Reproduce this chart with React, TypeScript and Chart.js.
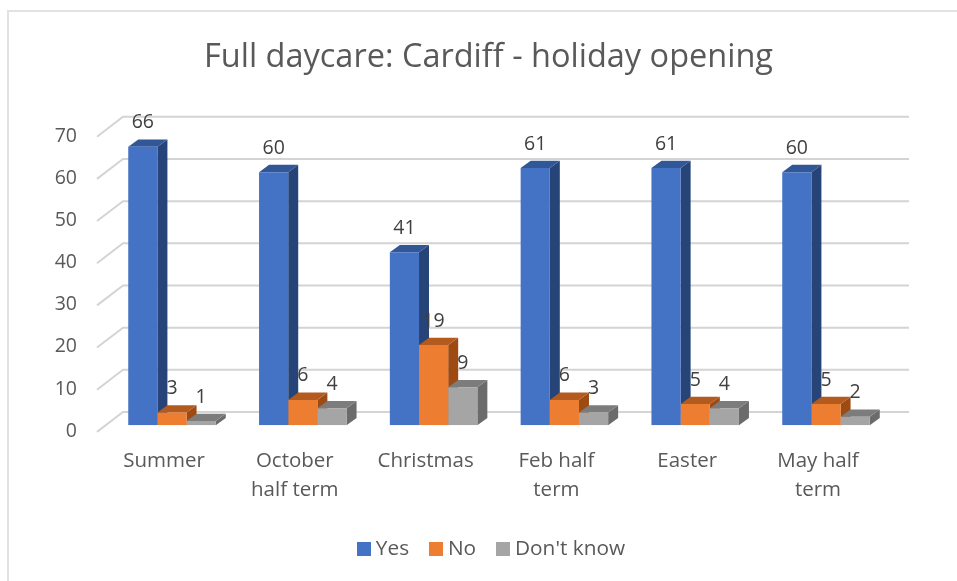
import React, { useEffect, useRef } from "react";
import { Chart, registerables } from "chart.js";

Chart.register(...registerables);

const categories = ["Summer", ["October", "half term"], "Christmas", ["Feb half", "term"], "Easter", ["May half", "term"]];
const yesValues = [66, 60, 41, 61, 61, 60];
const noValues = [3, 6, 19, 6, 5, 5];
const dontKnowValues = [1, 4, 9, 3, 4, 2];
const seriesNames = ["Yes", "No", "Don't know"];
const frontColors = ["#4472c4", "#ed7d31", "#a5a5a5"];
const topColors = ["#325797", "#b35a1f", "#7c7c7c"];
const sideColors = ["#264478", "#9e4a13", "#6b6b6b"];
const FONT = "'Open Sans'";

function swatch(color: string) {
  const c = document.createElement("canvas");
  c.width = 14;
  c.height = 14;
  const g = c.getContext("2d")!;
  g.fillStyle = color;
  g.fillRect(0, 0, 14, 14);
  return c;
}

const bars3d = {
  id: "bars3d",
  afterLayout(chart: any) {
    chart.legend.left += 5;
    chart.legend.right += 5;
  },
  beforeDatasetsDraw(chart: any) {
    const { ctx, chartArea, scales } = chart;
    const yScale = scales.y;
    ctx.save();
    ctx.strokeStyle = "#d4d4d4";
    ctx.lineWidth = 2;
    for (const v of yScale.ticks.map((t: any) => t.value)) {
      const y = yScale.getPixelForValue(v);
      ctx.beginPath();
      ctx.moveTo(chartArea.left - 9.6, y + 6.7);
      ctx.lineTo(chartArea.left + 16.4, y - 13.2);
      ctx.lineTo(chartArea.right + 17.6, y - 13.2);
      ctx.stroke();
    }
    const dx = 10;
    const dy = 7.3;
    for (let d = 0; d < 3; d++) {
      const meta = chart.getDatasetMeta(d);
      for (const bar of meta.data) {
        const p = bar.getProps(["x", "y", "base", "width"], true);
        const l = p.x - p.width / 2;
        const r = p.x + p.width / 2;
        ctx.fillStyle = sideColors[d];
        ctx.beginPath();
        ctx.moveTo(r, p.y);
        ctx.lineTo(r + dx, p.y - dy);
        ctx.lineTo(r + dx, p.base - dy);
        ctx.lineTo(r, p.base);
        ctx.closePath();
        ctx.fill();
        ctx.fillStyle = topColors[d];
        ctx.beginPath();
        ctx.moveTo(l, p.y);
        ctx.lineTo(l + dx, p.y - dy);
        ctx.lineTo(r + dx, p.y - dy);
        ctx.lineTo(r, p.y);
        ctx.closePath();
        ctx.fill();
      }
    }
    ctx.restore();
  },
  afterDatasetsDraw(chart: any) {
    const { ctx } = chart;
    ctx.save();
    ctx.fillStyle = "#404040";
    ctx.font = `19.5px ${FONT}`;
    ctx.textAlign = "center";
    ctx.textBaseline = "middle";
    chart.data.datasets.forEach((ds: any, d: number) => {
      chart.getDatasetMeta(d).data.forEach((bar: any, i: number) => {
        ctx.fillText(String(ds.data[i]), bar.x, bar.y - 24);
      });
    });
    ctx.restore();
  },
};

export default function App() {
  const ref = useRef<HTMLCanvasElement>(null);
  useEffect(() => {
    const swatches = frontColors.map(swatch);
    const chart = new Chart(ref.current!, {
      type: "bar",
      data: {
        labels: categories as any,
        datasets: [yesValues, noValues, dontKnowValues].map((data, i) => ({
          label: seriesNames[i],
          data,
          backgroundColor: frontColors[i],
          categoryPercentage: 0.669,
          barPercentage: 1,
          yAxisID: "y",
        })),
      },
      plugins: [bars3d],
      options: {
        responsive: false,
        animation: false,
        layout: { padding: { left: 20, right: 0, top: 0, bottom: 12 } },
        plugins: {
          tooltip: { enabled: false },
          title: {
            display: true,
            text: "Full daycare: Cardiff - holiday opening",
            color: "#595959",
            font: { family: FONT, size: 32.5, weight: "normal" },
            padding: { top: 38.5, bottom: 52.5 },
          },
          legend: {
            position: "bottom",
            labels: {
              boxWidth: 3.5,
              boxHeight: 14,
              usePointStyle: true,
              color: "#595959",
              font: { family: FONT, size: 20.8 },
              padding: 25,
              generateLabels: (c: any) =>
                Chart.defaults.plugins.legend.labels.generateLabels(c).map((item: any, i: number) => ({
                  ...item,
                  pointStyle: swatches[i],
                })),
            },
          },
        },
        scales: {
          x: {
            grid: { display: false },
            border: { display: false },
            afterFit: (s: any) => { s.height = 88; },
            ticks: { color: "#595959", font: { family: FONT, size: 20.5, lineHeight: 1.42 }, labelOffset: -8, padding: 13, maxRotation: 0, autoSkip: false },
          },
          y: {
            min: 0,
            max: 70,
            grid: { display: false, drawTicks: false },
            border: { display: false },
            afterFit: (s: any) => { s.width = 86.6; },
            ticks: { stepSize: 10, color: "#595959", font: { family: FONT, size: 19.5 }, labelOffset: 6, padding: 29.6 },
          },
          yRight: {
            position: "right",
            min: 0,
            max: 70,
            grid: { display: false, drawTicks: false },
            border: { display: false },
            ticks: { display: false },
            afterFit: (s: any) => { s.width = 65.6; },
          },
        },
      } as any,
    });
    return () => chart.destroy();
  }, []);
  return (
    <div style={{ position: "absolute", left: 0, top: 0, width: 957, height: 581, overflow: "hidden", background: "#fff" }}>
      <div style={{ position: "absolute", left: 7, top: 10, width: 960, height: 580, borderTop: "2px solid #e2e2e2", borderLeft: "2px solid #e2e2e2", boxSizing: "border-box" }} />
      <canvas ref={ref} width={957} height={581} style={{ position: "absolute", left: 0, top: 0, display: "block" }} />
    </div>
  );
}
